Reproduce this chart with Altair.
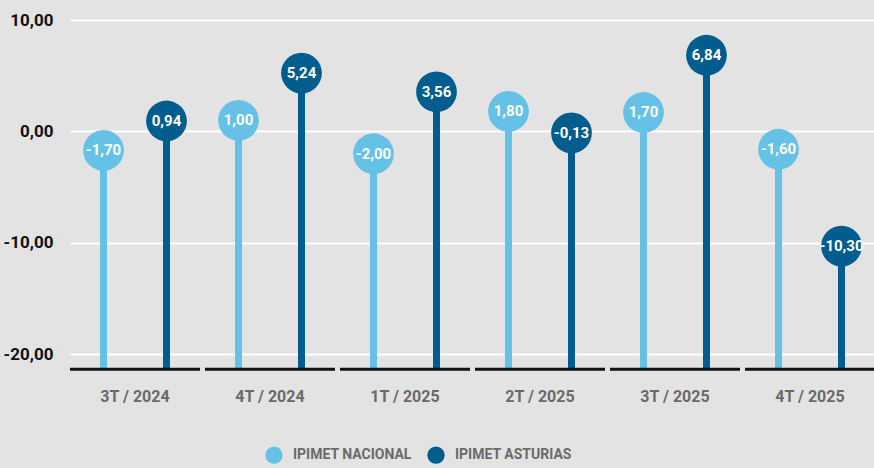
import altair as alt
import pandas as pd

quarters = ["3T / 2024", "4T / 2024", "1T / 2025", "2T / 2025", "3T / 2025", "4T / 2025"]
nacional = [-1.70, 1.00, -2.00, 1.80, 1.70, -1.60]
asturias = [0.94, 5.24, 3.56, -0.13, 6.84, -10.30]
series = ["IPIMET NACIONAL", "IPIMET ASTURIAS"]
colors = ["#66c1e6", "#005d8e"]
y_ticks = [10, 0, -10, -20]

rows = []
for q, n, a in zip(quarters, nacional, asturias):
    rows.append({"quarter": q, "series": series[0], "value": n})
    rows.append({"quarter": q, "series": series[1], "value": a})
df = pd.DataFrame(rows)
base_df = pd.DataFrame({"quarter": quarters})

FONT = "Roboto"
Y_MIN, Y_MAX = -21.6, 11.8
BASE = -21.35
FMT = "replace(replace(format(datum.value, '.2f'), '.', ','), '\u2212', '-')"

xscale = alt.Scale(domain=quarters, range=[15, 820], paddingInner=0.037, paddingOuter=0)
yscale = alt.Scale(domain=[Y_MIN, Y_MAX], nice=False, zero=False)
offscale = alt.Scale(domain=series, paddingInner=0.5, paddingOuter=0.282)
cscale = alt.Scale(domain=series, range=colors)

x_axis = alt.Axis(title=None, domain=False, ticks=False, labelAngle=0,
                  labelFont=FONT, labelFontSize=16, labelFontWeight="bold",
                  labelColor="#6a6a6a", labelPadding=16)
y_axis = alt.Axis(title=None, values=y_ticks, domain=False, ticks=False,
                  grid=True, gridColor="#ffffff", gridWidth=2,
                  labelFont=FONT, labelFontSize=17, labelFontWeight="bold",
                  labelColor="#111111", labelPadding=2, labelExpr=FMT)
legend = alt.Legend(title=None, orient="none", direction="horizontal",
                    legendX=210, legendY=446, symbolType="circle",
                    symbolSize=300, symbolStrokeWidth=0, symbolOpacity=1,
                    labelFont=FONT, labelFontSize=14, labelFontWeight="bold",
                    labelColor="#6a6a6a", labelOffset=10, columnPadding=15,
                    padding=0)

x_enc = alt.X("quarter:N", scale=xscale, sort=quarters, axis=x_axis)
y_enc = alt.Y("value:Q", scale=yscale, axis=y_axis)
off_enc = alt.XOffset("series:N", scale=offscale, sort=series)
c_enc = alt.Color("series:N", scale=cscale, sort=series, legend=legend)

stems = alt.Chart(df).mark_rule(strokeWidth=7).encode(
    x=x_enc, xOffset=off_enc, y=y_enc, y2=alt.datum(BASE), color=c_enc,
)

baseline = alt.Chart(base_df).mark_rect(color="#111111").encode(
    x=x_enc,
    y=alt.datum(BASE + 0.14, scale=yscale, axis=y_axis),
    y2=alt.datum(BASE - 0.14),
)

dots = alt.Chart(df).mark_circle(size=1660, opacity=1).encode(
    x=x_enc, xOffset=off_enc, y=y_enc, color=c_enc,
)

labels = alt.Chart(df).transform_calculate(
    label=FMT
).mark_text(color="white", font=FONT, fontSize=15, fontWeight="bold",
            align="center", baseline="middle").encode(
    x=x_enc, xOffset=off_enc, y=y_enc, text="label:N",
)

chart = alt.layer(stems, baseline, dots, labels).properties(
    width=819, height=372,
    autosize=alt.AutoSizeParams(type="none"),
    padding={"left": 55, "top": 0, "right": 0, "bottom": 96},
    background="#e3e3e3",
).configure_view(stroke=None, fill="#e3e3e3")

chart.save("out.html", embed_options={"renderer": "svg", "actions": False})
